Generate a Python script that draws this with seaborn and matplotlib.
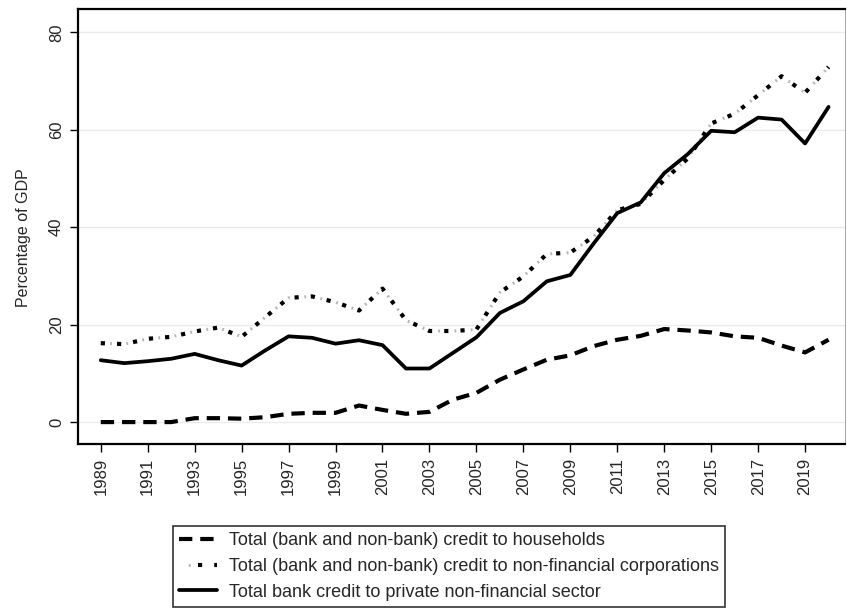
import matplotlib
matplotlib.use('Agg')
import matplotlib.pyplot as plt
from matplotlib.legend_handler import HandlerTuple
import seaborn as sns
import pandas as pd

years = list(range(1989, 2021))

households = [0.0, 0.0, 0.0, 0.0, 0.8, 0.8, 0.7, 1.0, 1.7, 1.9, 1.9, 3.4, 2.5, 1.7, 2.1, 4.6,
              6.0, 8.7, 10.8, 12.8, 13.7, 15.6, 16.9, 17.7, 19.1, 18.8, 18.4, 17.6, 17.3, 15.7, 14.3, 16.9]
corporations = [16.2, 16.0, 17.1, 17.5, 18.6, 19.4, 17.5, 21.5, 25.5, 25.8, 24.6, 22.9, 27.4, 20.9, 18.7, 18.7,
                19.0, 26.6, 29.9, 34.5, 34.8, 38.1, 43.5, 44.8, 49.7, 54.1, 61.3, 63.3, 67.1, 71.0, 67.6, 72.9]
bank_credit = [12.7, 12.1, 12.5, 13.0, 14.0, 12.7, 11.6, 14.7, 17.6, 17.3, 16.1, 16.8, 15.8, 11.0, 11.0, 14.2,
               17.4, 22.4, 24.8, 28.9, 30.2, 36.7, 42.9, 45.1, 51.1, 55.0, 59.8, 59.5, 62.5, 62.1, 57.2, 64.7]

labels = ['Total (bank and non-bank) credit to households',
          'Total (bank and non-bank) credit to non-financial corporations',
          'Total bank credit to private non-financial sector']

df = pd.DataFrame({'year': years, labels[0]: households, labels[1]: corporations, labels[2]: bank_credit})

sns.set_style('white')
plt.rcParams['font.family'] = ['Liberation Sans', 'DejaVu Sans']

fig = plt.figure(figsize=(8.47, 6.11), dpi=100)
ax = fig.add_axes([78 / 847, 1 - 444 / 611, (845 - 78) / 847, (444 - 9) / 611])

# households: bold dashes
sns.lineplot(data=df, x='year', y=labels[0], ax=ax, color='black', lw=3.0)
h_dash = ax.get_lines()[-1]
h_dash.set_dashes((3.2, 1.9))

# corporations: black dots with light grey ticks in between
sns.lineplot(data=df, x='year', y=labels[1], ax=ax, color='#b5b5b5', lw=2.2)
h_grey = ax.get_lines()[-1]
h_grey.set_linestyle((2.27, (0.6, 4.73)))
sns.lineplot(data=df, x='year', y=labels[1], ax=ax, color='black', lw=3.0)
h_dot = ax.get_lines()[-1]
h_dot.set_dashes((1.0, 2.9))

# bank credit: solid
sns.lineplot(data=df, x='year', y=labels[2], ax=ax, color='black', lw=2.7)
h_solid = ax.get_lines()[-1]

ax.set_xlim(1988.03, 2020.7)
ax.set_ylim(-4.5, 84.8)
ax.set_xticks(list(range(1989, 2020, 2)))
ax.set_xticklabels([str(y) for y in range(1989, 2020, 2)], rotation=90, fontsize=12)
ax.set_yticks([0, 20, 40, 60, 80])
ax.set_yticklabels(['0', '20', '40', '60', '80'], rotation=90, va='center', fontsize=12)
ax.yaxis.grid(True, color='#ebebeb', lw=1)
ax.set_xlabel('')
ax.set_ylabel('Percentage of GDP', fontsize=11.5)
ax.yaxis.set_label_coords(-0.061, 0.474)
ax.tick_params(axis='both', direction='out', length=6, width=1, color='black', bottom=True, left=True, pad=4)
for s in ax.spines.values():
    s.set_color('black')
    s.set_linewidth(1.6)
ax.spines['right'].set_linewidth(0.6)
ax.spines['right'].set_color('#999999')

leg = fig.legend([h_dash, (h_grey, h_dot), h_solid], labels, loc='upper left',
                 bbox_to_anchor=(173 / 847, 1 - 526 / 611), borderaxespad=0,
                 handler_map={tuple: HandlerTuple(ndivide=None, pad=0)},
                 fontsize=13, frameon=True, fancybox=False, edgecolor='black', handlelength=2.1,
                 labelspacing=0.48, borderpad=0.35, handletextpad=0.65)
leg.get_frame().set_linewidth(1.2)

fig.savefig('out.png', dpi=100)
